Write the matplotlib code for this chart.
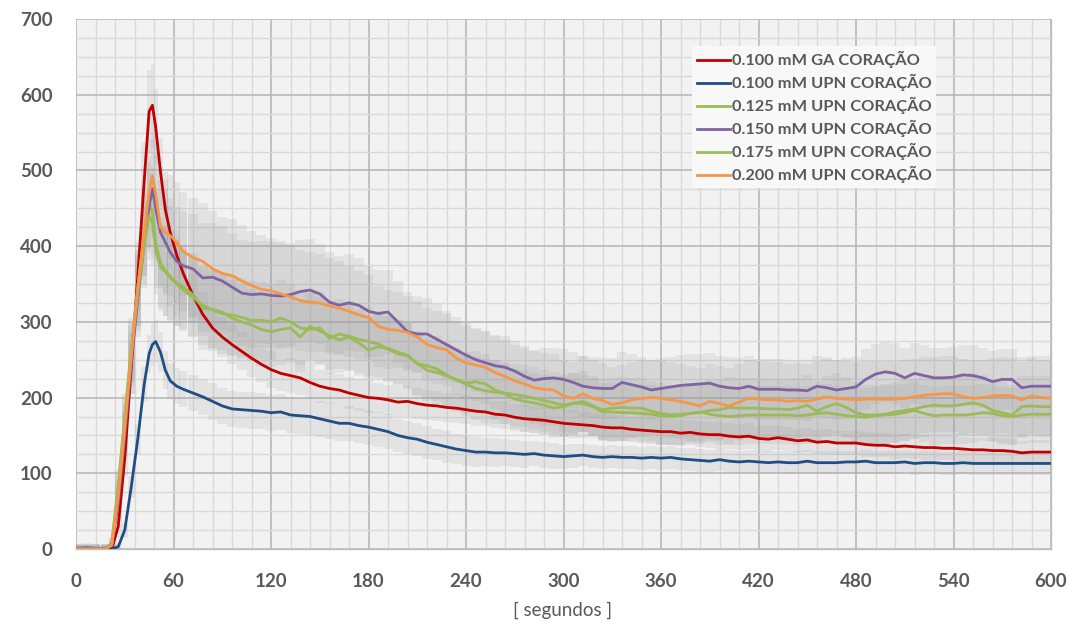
import numpy as np
import matplotlib
matplotlib.use("Agg")
import matplotlib.pyplot as plt
from matplotlib.ticker import MultipleLocator

# ---------------- data ----------------
t_early = [0, 6, 12, 18, 22, 26, 30, 34, 38, 42, 45, 47, 49, 52, 55, 58, 62, 66]
t_late = list(range(72, 601, 6))
times = t_early + t_late

labels = ["0.100 mM GA CORAÇÃO", "0.100 mM UPN CORAÇÃO", "0.125 mM UPN CORAÇÃO",
          "0.150 mM UPN CORAÇÃO", "0.175 mM UPN CORAÇÃO", "0.200 mM UPN CORAÇÃO"]
colors = ["#c00000", "#1f4e84", "#9bbb59", "#8064a2", "#9bbb59", "#f79646"]

ga_100 = [0, 0, 0, 0, 0, 30, 120, 240, 360, 487, 578, 586, 558, 498, 448, 418, 388, 364,
          335, 310, 292, 280, 270, 261, 252, 244, 237, 232,
          229, 226, 220, 215, 212, 210, 206, 203, 200, 199,
          197, 194, 195, 192, 190, 189, 187, 186, 184, 182,
          181, 178, 177, 174, 172, 171, 170, 168, 166, 165,
          164, 163, 161, 160, 160, 158, 157, 156, 155, 155,
          153, 154, 152, 151, 151, 149, 148, 149, 146, 145,
          147, 145, 143, 144, 141, 142, 140, 140, 140, 138,
          137, 137, 135, 136, 135, 134, 134, 133, 133, 132,
          131, 131, 130, 130, 129, 127, 128, 128, 128]

upn_100 = [0, 0, 0, 0, 0, 3, 25, 82, 145, 218, 258, 270, 274, 260, 236, 222, 215, 211,
           206, 201, 195, 189, 185, 184, 183, 182, 180, 181,
           177, 176, 175, 172, 169, 166, 166, 163, 161, 158,
           155, 150, 147, 145, 141, 138, 135, 132, 130, 128,
           128, 127, 127, 126, 125, 126, 124, 123, 122, 123,
           124, 122, 121, 122, 121, 121, 120, 121, 120, 121,
           119, 118, 117, 116, 118, 116, 115, 116, 115, 114,
           115, 114, 114, 116, 114, 114, 114, 115, 115, 116,
           114, 114, 114, 115, 113, 114, 114, 113, 113, 114,
           113, 113, 113, 113, 113, 113, 113, 113, 113]

upn_125 = [0, 0, 0, 0, 8, 85, 175, 265, 345, 415, 458, 445, 405, 378, 368, 360, 352, 346,
           336, 318, 316, 311, 309, 306, 302, 302, 300, 305,
           300, 292, 290, 292, 278, 284, 281, 277, 274, 271,
           264, 258, 255, 245, 242, 238, 230, 223, 218, 212,
           209, 207, 206, 204, 202, 199, 196, 193, 190, 192,
           195, 189, 184, 186, 187, 186, 186, 182, 179, 177,
           178, 179, 180, 183, 184, 187, 186, 186, 186, 185,
           185, 184, 186, 190, 182, 188, 192, 187, 180, 177,
           177, 178, 181, 183, 185, 188, 190, 189, 189, 191,
           193, 190, 183, 180, 177, 188, 189, 188, 188]

upn_150 = [1, 2, 1, 1, 5, 60, 150, 245, 330, 405, 452, 476, 450, 418, 405, 392, 380, 374,
           370, 358, 359, 354, 346, 338, 336, 337, 335, 334,
           336, 340, 342, 337, 326, 322, 325, 322, 314, 311,
           313, 300, 287, 284, 284, 277, 270, 263, 256, 250,
           246, 242, 240, 235, 228, 223, 225, 226, 224, 220,
           215, 213, 212, 212, 220, 217, 214, 210, 212, 214,
           216, 217, 218, 219, 215, 213, 212, 215, 211, 211,
           211, 210, 210, 209, 215, 213, 210, 212, 214, 224,
           231, 234, 232, 226, 232, 229, 226, 226, 227, 230,
           229, 226, 221, 224, 224, 213, 215, 215, 215]

upn_175 = [0, 0, 0, 0, 6, 80, 170, 260, 338, 400, 440, 432, 395, 372, 366, 358, 350, 342,
           332, 322, 316, 313, 305, 300, 296, 290, 287, 290,
           292, 280, 294, 288, 282, 276, 280, 272, 263, 267,
           265, 260, 256, 245, 236, 233, 229, 224, 219, 221,
           218, 210, 205, 198, 195, 193, 190, 186, 188, 193,
           192, 188, 181, 181, 180, 180, 179, 178, 176, 175,
           176, 179, 181, 178, 176, 175, 176, 177, 177, 177,
           177, 177, 176, 177, 179, 180, 178, 176, 175, 174,
           176, 177, 178, 180, 183, 179, 176, 177, 177, 177,
           178, 180, 179, 176, 175, 177, 178, 178, 178]

upn_200 = [0, 0, 0, 0, 5, 70, 160, 255, 345, 420, 470, 493, 470, 425, 418, 414, 405, 393,
           385, 380, 370, 364, 361, 354, 348, 343, 341, 337,
           333, 328, 326, 325, 321, 318, 314, 309, 306, 294,
           290, 289, 286, 280, 270, 266, 263, 252, 246, 243,
           240, 233, 228, 222, 218, 213, 211, 210, 202, 199,
           205, 199, 196, 191, 193, 197, 199, 200, 199, 197,
           195, 192, 189, 195, 192, 189, 194, 199, 198, 197,
           197, 195, 196, 195, 198, 201, 199, 198, 197, 198,
           198, 198, 198, 199, 201, 203, 204, 205, 205, 201,
           199, 200, 202, 203, 202, 197, 202, 200, 199]

# standard deviations (error bars)
err_ga_100 = [6, 6, 6, 6, 6, 15, 25, 35, 45, 50, 55, 55, 50, 45, 40, 35, 32, 30,
              30, 29, 28, 27, 26, 25, 25, 24, 24, 23,
              23, 22, 22, 22, 21, 21, 21, 21, 20, 20,
              20, 20, 20, 20, 20, 20, 19, 19, 19, 19,
              18, 18, 18, 18, 18, 18, 18, 18, 18, 18,
              17, 17, 17, 17, 17, 17, 17, 17, 17, 17,
              17, 17, 17, 17, 17, 17, 17, 17, 17, 17,
              16, 16, 16, 16, 16, 16, 16, 16, 16, 16,
              16, 16, 16, 16, 16, 16, 16, 16, 16, 16,
              16, 16, 16, 16, 16, 16, 16, 16, 16]
err_upn_100 = [4, 4, 4, 4, 4, 5, 10, 15, 20, 22, 25, 28, 28, 26, 25, 24, 24, 24,
               24, 24, 24, 24, 24, 24, 24, 24, 24, 24,
               24, 24, 24, 24, 24, 23, 23, 23, 23, 23,
               23, 22, 22, 22, 22, 21, 21, 20, 20, 20,
               19, 19, 18, 18, 18, 17, 17, 17, 16, 16,
               15, 15, 15, 15, 15, 15, 15, 15, 15, 15,
               15, 15, 15, 15, 15, 15, 15, 15, 15, 15,
               15, 15, 15, 15, 15, 15, 15, 15, 15, 15,
               15, 15, 15, 15, 15, 15, 15, 15, 15, 15,
               15, 15, 15, 15, 15, 15, 15, 15, 15]
err_upn_125 = [5, 5, 5, 5, 8, 20, 30, 40, 50, 55, 60, 60, 60, 60, 60, 60, 58, 56,
               55, 55, 54, 54, 53, 52, 52, 51, 50, 50,
               50, 49, 48, 48, 47, 46, 46, 45, 45, 44,
               44, 44, 44, 43, 43, 43, 42, 42, 42, 42,
               42, 42, 41, 41, 41, 41, 41, 41, 41, 41,
               40, 40, 40, 40, 40, 40, 40, 40, 40, 40,
               40, 40, 40, 40, 40, 40, 40, 40, 40, 40,
               40, 40, 40, 40, 40, 40, 40, 40, 40, 40,
               40, 40, 40, 40, 40, 40, 40, 40, 40, 40,
               40, 40, 40, 40, 40, 40, 40, 40, 40]
err_upn_150 = [6, 6, 6, 6, 6, 20, 30, 40, 50, 55, 60, 65, 70, 70, 70, 72, 72, 72,
               72, 72, 72, 72, 72, 70, 70, 70, 70, 70,
               68, 68, 68, 66, 66, 65, 64, 62, 60, 58,
               56, 54, 52, 50, 48, 46, 45, 44, 43, 42,
               42, 41, 41, 40, 40, 40, 40, 40, 40, 40,
               40, 40, 40, 40, 40, 40, 40, 40, 40, 40,
               40, 40, 40, 40, 40, 40, 40, 40, 40, 40,
               40, 40, 40, 40, 40, 40, 40, 40, 40, 40,
               40, 40, 40, 40, 40, 40, 40, 40, 40, 40,
               40, 40, 40, 40, 40, 40, 40, 40, 40]
err_upn_175 = [5, 5, 5, 5, 8, 20, 30, 40, 50, 55, 58, 58, 58, 58, 58, 56, 55, 54,
               52, 52, 51, 50, 50, 49, 48, 48, 47, 47,
               46, 46, 45, 45, 45, 44, 44, 44, 43, 43,
               43, 42, 42, 42, 41, 41, 41, 40, 40, 40,
               40, 40, 40, 40, 40, 40, 40, 40, 40, 40,
               38, 38, 38, 38, 38, 38, 38, 38, 38, 38,
               38, 38, 38, 38, 38, 38, 38, 38, 38, 38,
               38, 38, 38, 38, 38, 38, 38, 38, 38, 38,
               38, 38, 38, 38, 38, 38, 38, 38, 38, 38,
               38, 38, 38, 38, 38, 38, 38, 38, 38]
err_upn_200 = [6, 6, 6, 6, 6, 20, 30, 40, 50, 60, 70, 75, 80, 80, 80, 80, 80, 78,
               78, 77, 76, 75, 75, 74, 72, 72, 70, 70,
               68, 67, 66, 65, 64, 62, 60, 58, 56, 54,
               52, 50, 48, 48, 48, 48, 48, 48, 48, 48,
               48, 48, 48, 48, 48, 48, 48, 48, 48, 48,
               50, 50, 50, 50, 50, 50, 50, 50, 50, 50,
               50, 50, 50, 50, 50, 50, 50, 50, 50, 50,
               50, 50, 50, 50, 50, 50, 50, 50, 50, 50,
               50, 50, 50, 50, 50, 50, 50, 50, 50, 50,
               50, 50, 50, 50, 50, 50, 50, 50, 50]

series = [ga_100, upn_100, upn_125, upn_150, upn_175, upn_200]
errors = [err_ga_100, err_upn_100, err_upn_125, err_upn_150, err_upn_175, err_upn_200]

x_ticks = [0, 60, 120, 180, 240, 300, 360, 420, 480, 540, 600]
y_ticks = [0, 100, 200, 300, 400, 500, 600, 700]

# ---------------- plot ----------------
plt.rcParams['font.family'] = ['Lato', 'DejaVu Sans']
fig = plt.figure(figsize=(10.76, 6.23), dpi=100)
fig.patch.set_facecolor("white")
ax = fig.add_axes([76 / 1076, 1 - 549 / 623, (1051 - 76) / 1076, (549 - 19) / 623])
ax.set_facecolor("#f2f2f2")

tx = np.array(times, dtype=float)
widths = np.gradient(tx)
for vals, errs in zip(series, errors):
    v = np.array(vals, dtype=float)
    e = np.array(errs, dtype=float)
    ax.bar(tx, 2 * e, bottom=v - e, width=widths, color="#9a9a9a", alpha=0.16,
           linewidth=0, zorder=2)

for vals, lab, col in zip(series, labels, colors):
    ax.plot(times, vals, color=col, lw=2.0, label=lab, zorder=3,
            solid_joinstyle="round")

ax.set_xlim(0, 600)
ax.set_ylim(0, 700)
ax.set_xticks(x_ticks)
ax.set_yticks(y_ticks)
ax.xaxis.set_minor_locator(MultipleLocator(12))
ax.yaxis.set_minor_locator(MultipleLocator(25))
ax.grid(which="major", color="#b4b4b4", lw=1.1, zorder=1)
ax.grid(which="minor", color="#d9d9d9", lw=1.0, zorder=0.9)
ax.set_axisbelow(True)
ax.tick_params(which="both", length=0)
ax.tick_params(axis="y", pad=17)
ax.tick_params(axis="x", pad=17)
for lbl in ax.get_xticklabels() + ax.get_yticklabels():
    lbl.set_fontsize(13.5)
    lbl.set_fontweight("bold")
    lbl.set_color("#595959")
for s in ["top", "left"]:
    ax.spines[s].set_visible(False)
for s in ["bottom", "right"]:
    ax.spines[s].set_color("#bfbfbf")
    ax.spines[s].set_linewidth(1.0)

fig.text(563 / 1076, 1 - 610 / 623, "[ segundos ]", ha="center", va="center",
         fontsize=13.5, color="#595959")

leg = ax.legend(loc="upper left", bbox_to_anchor=((684 - 76) / 975, 1 - (38 - 19) / 530),
                frameon=True, facecolor="#f8f8f8", edgecolor="none", framealpha=1.0,
                fancybox=False, handlelength=2.0, handletextpad=0.1, labelspacing=0.36,
                borderpad=0.3, prop={"weight": "bold", "size": 11.8})
for txt in leg.get_texts():
    txt.set_color("#595959")
leg.set_zorder(5)

fig.savefig("out.png", dpi=100, facecolor="white")
